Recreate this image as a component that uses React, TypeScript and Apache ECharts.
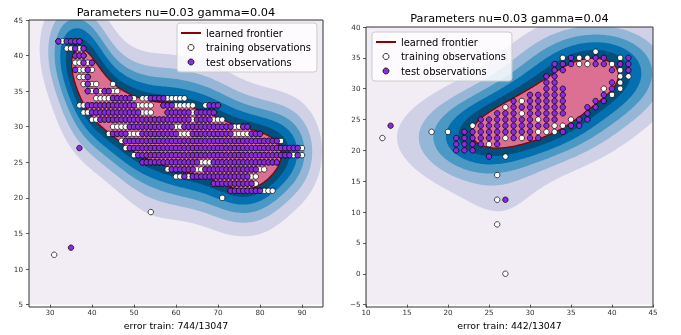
import React, { useEffect, useRef } from 'react';
import * as echarts from 'echarts';

// ---------------- data ----------------
const TITLE = 'Parameters nu=0.03 gamma=0.04';
// kernel width used to rebuild the decision field from the observations
const KERNEL_GAMMA = 0.026;
const LEFT_FRONTIER_QUANTILE = 0.2;
const RIGHT_FRONTIER_QUANTILE = 0.38;
const MIN_LOCAL_DENSITY = 24;

const leftXName = 'error train: 744/13047';
const rightXName = 'error train: 442/13047';

const leftXTicks = [30, 40, 50, 60, 70, 80, 90];
const leftYTicks = [5, 10, 15, 20, 25, 30, 35, 40, 45];
const rightXTicks = [10, 15, 20, 25, 30, 35, 40, 45];
const rightYTicks = [-5, 0, 5, 10, 15, 20, 25, 30, 35, 40];

// Left panel: rows of integer-grid observations [y, xFrom, xTo]
const leftTrainRows: [number, number, number][] = [
  [42, 32, 37], [41, 34, 38], [40, 36, 38], [39, 36, 40], [38, 36, 40], [37, 37, 39],
  [36, 38, 41], [36, 45, 45], [35, 39, 46], [34, 41, 50], [34, 52, 62],
  [33, 37, 54], [33, 57, 64], [33, 67, 70], [32, 38, 54], [32, 58, 69],
  [31, 40, 71], [30, 45, 77], [29, 44, 80], [28, 47, 85], [27, 48, 90], [26, 50, 90],
  [25, 52, 84], [24, 58, 81], [23, 60, 79], [22, 69, 79], [21, 73, 83],
  [20, 71, 71], [18, 54, 54], [12, 31, 31],
];
const leftTestRows: [number, number, number][] = [
  [42, 32, 32], [42, 34, 37], [41, 36, 36], [41, 38, 38], [40, 36, 38], [39, 38, 38], [39, 40, 40],
  [38, 36, 36], [38, 39, 39], [37, 39, 39], [36, 39, 39], [35, 39, 39], [35, 41, 41], [35, 43, 44],
  [34, 45, 49], [34, 54, 57], [33, 39, 50], [33, 57, 59], [33, 68, 70],
  [32, 40, 51], [32, 58, 63], [32, 65, 69], [31, 42, 63], [31, 65, 68],
  [30, 49, 59], [30, 62, 73], [30, 76, 77], [29, 45, 48], [29, 52, 60], [29, 64, 73], [29, 78, 80],
  [28, 48, 84], [27, 49, 89], [26, 51, 87], [26, 89, 89], [25, 52, 65], [25, 69, 84],
  [24, 59, 64], [24, 67, 79], [23, 62, 62], [23, 64, 77], [22, 69, 78], [21, 73, 80],
];
const leftTestOutliers: [number, number][] = [[37, 27], [35, 13]];

// Right panel: rows [y, list of x]
const rightTrainRows: [number, number[]][] = [
  [36, [38]], [35, [34, 36, 37, 41]], [34, [36, 37, 40]], [33, [41]], [32, [41, 42]], [31, [41]],
  [30, [39, 41]], [29, [40]], [28, [29]], [27, [27]], [26, [29]], [25, [31, 35]],
  [24, [23, 33, 34]], [23, [18, 20, 31, 32, 33]], [22, [12, 27, 29]], [21, [25]],
  [19, [27]], [16, [26]], [12, [26]], [8, [26]], [0, [27]],
];
const rightTestRows: [number, number[]][] = [
  [35, [35, 38, 39, 42]], [34, [33, 34, 35, 38, 39, 41, 42]], [33, [33, 34, 40, 42]],
  [32, [32, 33]], [31, [32, 33, 40]], [30, [32, 33, 34, 40]], [29, [30, 31, 32, 33, 34, 39]],
  [28, [28, 30, 31, 32, 33, 34, 38, 39]], [27, [28, 29, 30, 31, 32, 33, 34, 37, 38]],
  [26, [26, 27, 28, 30, 31, 32, 33, 34, 37]],
  [25, [24, 25, 26, 27, 28, 29, 30, 32, 33, 36, 37]],
  [24, [24, 25, 26, 27, 28, 29, 30, 31, 32, 35, 36]],
  [23, [22, 23, 24, 25, 26, 27, 28, 29, 30, 34]],
  [22, [21, 22, 23, 24, 25, 26, 28, 30, 31]], [21, [21, 22, 23, 24, 26]], [20, [21, 22, 23]],
  [12, [27]],
];
const rightTestOutliers: [number, number][] = [[13, 24], [25, 19]];

// ---------------- styles ----------------
const BG = '#f2ecf5';
const BAND_COLORS = ['#d0d1e6', '#95b6d7', '#4b98c5', '#0570b0', '#034f7b'];
const FRONTIER_COLOR = '#8b0000';
const PINK = '#db7093';
const TEST_COLOR = '#8a2be2';
const FONT = 'DejaVu Sans';

// ---------------- helpers ----------------
function expandRanges(rows: [number, number, number][]): number[][] {
  const out: number[][] = [];
  for (const [y, a, b] of rows) for (let x = a; x <= b; x++) out.push([x, y]);
  return out;
}
function expandLists(rows: [number, number[]][]): number[][] {
  const out: number[][] = [];
  for (const [y, xs] of rows) for (const x of xs) out.push([x, y]);
  return out;
}
function unique(pts: number[][]): number[][] {
  const seen = new Set<string>();
  const out: number[][] = [];
  for (const p of pts) {
    const k = p[0] + ',' + p[1];
    if (!seen.has(k)) { seen.add(k); out.push(p); }
  }
  return out;
}

function isoRings(vals: Float64Array, nx: number, ny: number, x0: number, y0: number, step: number, L: number) {
  const next = new Map<number, number>();
  for (let j = 0; j < ny - 1; j++) {
    for (let i = 0; i < nx - 1; i++) {
      const v = [vals[j * nx + i], vals[j * nx + i + 1], vals[(j + 1) * nx + i + 1], vals[(j + 1) * nx + i]];
      const ins = v.map((a) => a >= L);
      if (ins[0] === ins[1] && ins[1] === ins[2] && ins[2] === ins[3]) continue;
      const eid = [2 * (j * nx + i), 2 * (j * nx + i + 1) + 1, 2 * ((j + 1) * nx + i), 2 * (j * nx + i) + 1];
      const starts: number[] = [];
      const ends: number[] = [];
      for (let k = 0; k < 4; k++) {
        const p = ins[k], q = ins[(k + 1) % 4];
        if (p && !q) starts.push(k);
        if (!p && q) ends.push(k);
      }
      if (starts.length === 1) {
        next.set(eid[starts[0]], eid[ends[0]]);
      } else {
        const center = (v[0] + v[1] + v[2] + v[3]) / 4 >= L;
        for (const s of starts) next.set(eid[s], eid[center ? (s + 1) % 4 : (s + 3) % 4]);
      }
    }
  }
  const edgePoint = (id: number) => {
    const cell = id >> 1;
    const i = cell % nx;
    const j = (cell - i) / nx;
    if ((id & 1) === 0) {
      const va = vals[j * nx + i], vb = vals[j * nx + i + 1];
      const t = (L - va) / (vb - va);
      return [x0 + (i + t) * step, y0 + j * step];
    }
    const va = vals[j * nx + i], vb = vals[(j + 1) * nx + i];
    const t = (L - va) / (vb - va);
    return [x0 + i * step, y0 + (j + t) * step];
  };
  const rings: number[][][] = [];
  const seen = new Set<number>();
  for (const sid of next.keys()) {
    if (seen.has(sid)) continue;
    const ring: number[][] = [];
    let cur: number | undefined = sid;
    while (cur !== undefined && !seen.has(cur)) {
      seen.add(cur);
      ring.push(edgePoint(cur));
      cur = next.get(cur);
    }
    if (ring.length > 2) rings.push(ring);
  }
  return rings;
}

function computeField(centers: number[][], xr: number[], yr: number[], step: number, quantile: number) {
  const g = KERNEL_GAMMA;
  const K = (a: number[], b: number[]) => Math.exp(-g * ((a[0] - b[0]) ** 2 + (a[1] - b[1]) ** 2));
  // density-normalised weights (support-vector-like), bounded for isolated points
  const dens = centers.map((c) => centers.reduce((s, p) => s + K(c, p), 0));
  const w = dens.map((n) => 1 / Math.max(n, MIN_LOCAL_DENSITY));
  const [x0, x1] = xr;
  const [y0, y1] = yr;
  const nx = Math.round((x1 - x0) / step) + 1;
  const ny = Math.round((y1 - y0) / step) + 1;
  const vals = new Float64Array(nx * ny);
  const R = 18;
  centers.forEach(([cx, cy], idx) => {
    const wi = w[idx];
    const i0 = Math.max(0, Math.floor((cx - R - x0) / step));
    const i1 = Math.min(nx - 1, Math.ceil((cx + R - x0) / step));
    const j0 = Math.max(0, Math.floor((cy - R - y0) / step));
    const j1 = Math.min(ny - 1, Math.ceil((cy + R - y0) / step));
    for (let j = j0; j <= j1; j++) {
      const dy = y0 + j * step - cy;
      const ey = wi * Math.exp(-g * dy * dy);
      for (let i = i0; i <= i1; i++) {
        const dx = x0 + i * step - cx;
        vals[j * nx + i] += ey * Math.exp(-g * dx * dx);
      }
    }
  });
  const scores = centers
    .map((c) => centers.reduce((s, p, k) => s + w[k] * K(c, p), 0))
    .sort((a, b) => a - b);
  const rho = scores[Math.floor(quantile * scores.length)];
  const bands = [1, 2, 3, 4, 5].map((k) => isoRings(vals, nx, ny, x0, y0, step, (rho * k) / 6));
  const frontier = isoRings(vals, nx, ny, x0, y0, step, rho);
  return { bands, frontier };
}

const leftTrain = expandRanges(leftTrainRows);
const leftTest = expandRanges(leftTestRows);
const rightTrain = expandLists(rightTrainRows);
const rightTest = expandLists(rightTestRows);

const leftField = computeField(unique([...leftTrain, ...leftTest]), [8, 112], [-10, 64], 0.3, LEFT_FRONTIER_QUANTILE);
const rightField = computeField(unique([...rightTrain, ...rightTest]), [-10, 64], [-22, 58], 0.3, RIGHT_FRONTIER_QUANTILE);

function contourSeries(field: any, idx: number) {
  return {
    type: 'custom',
    name: 'learned frontier',
    xAxisIndex: idx,
    yAxisIndex: idx,
    clip: true,
    silent: true,
    progressive: 0,
    itemStyle: { color: FRONTIER_COLOR },
    data: [[0, 0]],
    renderItem: (_params: any, api: any) => {
      const toPath = (rings: number[][][]) =>
        rings
          .map((r) =>
            r.map((p, k) => {
              const c = api.coord(p);
              return (k ? 'L' : 'M') + c[0].toFixed(1) + ' ' + c[1].toFixed(1);
            }).join('') + 'Z'
          )
          .join(' ');
      const children: any[] = [];
      field.bands.forEach((rings: number[][][], k: number) => {
        if (rings.length) children.push({ type: 'path', shape: { pathData: toPath(rings) }, style: { fill: BAND_COLORS[k] } });
      });
      if (field.frontier.length) {
        const fr = toPath(field.frontier);
        children.push({ type: 'path', shape: { pathData: fr }, style: { fill: 'none', stroke: FRONTIER_COLOR, lineWidth: 2.5 } });
        children.push({ type: 'path', shape: { pathData: fr }, style: { fill: PINK } });
      }
      return { type: 'group', children };
    },
  };
}

function scatter(name: string, data: number[][], idx: number, color: string) {
  return {
    type: 'scatter',
    name,
    xAxisIndex: idx,
    yAxisIndex: idx,
    data,
    symbolSize: 5.5,
    silent: true,
    progressive: 0,
    itemStyle: { color, borderColor: '#000', borderWidth: 0.7, opacity: 1 },
  };
}

const axisCommon = {
  splitLine: { show: false },
  axisLine: { show: false, onZero: false },
  axisTick: { show: true, length: 3, lineStyle: { color: '#333', width: 0.8 } },
};
const labelStyle = { fontFamily: FONT, fontSize: 7.2, color: '#333' };

function legendFor(left: number, top: number) {
  return {
    left,
    top,
    orient: 'vertical',
    selectedMode: false,
    itemWidth: 20,
    itemHeight: 6,
    itemGap: 2.5,
    padding: [4, 6, 4, 4],
    backgroundColor: 'rgba(255,255,255,0.8)',
    borderColor: '#cccccc',
    borderWidth: 1,
    borderRadius: 3,
    textStyle: { fontFamily: FONT, fontSize: 9.9, color: '#000', lineHeight: 12 },
    data: [
      { name: 'learned frontier', icon: 'path://M0 0H20V2H0Z', itemStyle: { color: FRONTIER_COLOR, borderWidth: 0 } },
      { name: 'training observations', icon: 'circle', itemStyle: { color: '#ffffff', borderColor: '#000', borderWidth: 0.8 } },
      { name: 'test observations', icon: 'circle', itemStyle: { color: TEST_COLOR, borderColor: '#000', borderWidth: 0.8 } },
    ],
  };
}

export default function App() {
  const ref = useRef<HTMLDivElement>(null);
  useEffect(() => {
    if (!ref.current) return;
    const chart = echarts.init(ref.current, null, { renderer: 'svg' });
    const option: any = {
      animation: false,
      textStyle: { fontFamily: FONT },
      grid: [
        { left: 29, top: 20, width: 294, height: 287, show: true, backgroundColor: BG, borderWidth: 0 },
        { left: 366, top: 27, width: 287, height: 280, show: true, backgroundColor: BG, borderWidth: 0 },
      ],
      xAxis: [
        {
          type: 'value', gridIndex: 0, min: 25, max: 95, ...axisCommon,
          axisTick: { ...axisCommon.axisTick, customValues: leftXTicks },
          axisLabel: { ...labelStyle, margin: 4.5, customValues: leftXTicks },
          name: leftXName, nameLocation: 'middle', nameGap: 15,
          nameTextStyle: { fontFamily: FONT, fontSize: 9.4, color: '#000' },
        },
        {
          type: 'value', gridIndex: 1, min: 10, max: 45, interval: 5, ...axisCommon,
          axisTick: { ...axisCommon.axisTick, customValues: rightXTicks },
          axisLabel: { ...labelStyle, margin: 4.5, customValues: rightXTicks },
          name: rightXName, nameLocation: 'middle', nameGap: 15,
          nameTextStyle: { fontFamily: FONT, fontSize: 9.4, color: '#000' },
        },
      ],
      yAxis: [
        {
          type: 'value', gridIndex: 0, min: 5, max: 45, interval: 5, ...axisCommon,
          axisTick: { ...axisCommon.axisTick, customValues: leftYTicks },
          axisLabel: { ...labelStyle, margin: 6, customValues: leftYTicks },
        },
        {
          type: 'value', gridIndex: 1, min: -5, max: 40, interval: 5, ...axisCommon,
          axisTick: { ...axisCommon.axisTick, customValues: rightYTicks },
          axisLabel: {
            ...labelStyle, margin: 5.5, customValues: rightYTicks,
            formatter: (v: number) => String(v).replace('-', '\u2212'),
          },
        },
      ],
      legend: [legendFor(177, 23), legendFor(372, 32)],
      graphic: [
        {
          type: 'text', x: 176, y: 12, silent: true,
          style: { text: TITLE, font: `11.3px "${FONT}"`, fill: '#000', textAlign: 'center', textVerticalAlign: 'middle', align: 'center', verticalAlign: 'middle' },
        },
        {
          type: 'text', x: 509.5, y: 18.5, silent: true,
          style: { text: TITLE, font: `11.3px "${FONT}"`, fill: '#000', textAlign: 'center', textVerticalAlign: 'middle', align: 'center', verticalAlign: 'middle' },
        },
        { type: 'rect', z: 100, silent: true, shape: { x: 29, y: 20, width: 294, height: 287 }, style: { fill: 'none', stroke: '#333', lineWidth: 1 } },
        { type: 'rect', z: 100, silent: true, shape: { x: 366, y: 27, width: 287, height: 280 }, style: { fill: 'none', stroke: '#333', lineWidth: 1 } },
      ],
      series: [
        contourSeries(leftField, 0),
        scatter('training observations', leftTrain, 0, '#ffffff'),
        scatter('test observations', [...leftTest, ...leftTestOutliers], 0, TEST_COLOR),
        contourSeries(rightField, 1),
        scatter('training observations', rightTrain, 1, '#ffffff'),
        scatter('test observations', [...rightTest, ...rightTestOutliers], 1, TEST_COLOR),
      ],
    };
    chart.setOption(option);
    return () => chart.dispose();
  }, []);
  return <div ref={ref} style={{ position: 'fixed', left: 0, top: 0, width: 681, height: 335 }} />;
}
